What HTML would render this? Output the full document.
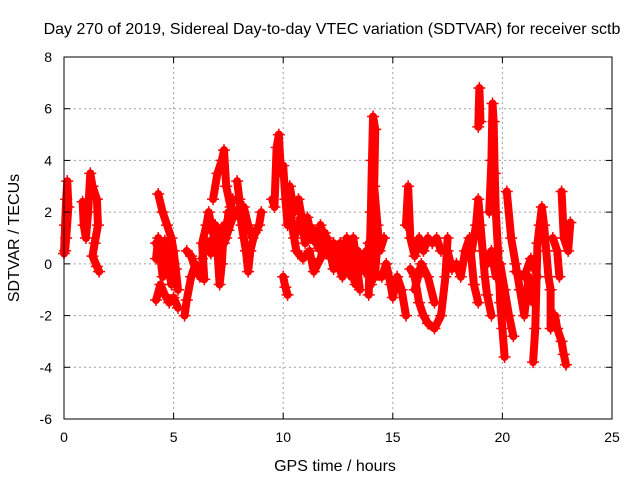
<!DOCTYPE html>
<html><head><meta charset="utf-8"><style>
body{margin:0;background:#fff}
svg text{font-family:"Liberation Sans",sans-serif;font-size:14px;fill:#000}
svg text.big{font-size:16px}
</style></head><body>
<svg id="chart" width="640" height="480">
<rect width="640" height="480" fill="#fff"/>
<g id="grid"></g>
<g id="series"></g>
<rect x="64" y="57" width="548" height="362" fill="none" stroke="#000" stroke-width="1"/>
<g id="ticks"></g>
<text class="big" x="332" y="34" text-anchor="middle">Day 270 of 2019, Sidereal Day-to-day VTEC variation (SDTVAR) for receiver sctb</text>
<text class="big" x="335" y="471" text-anchor="middle">GPS time / hours</text>
<text class="big" transform="translate(19,238) rotate(-90)" text-anchor="middle">SDTVAR / TECUs</text>
</svg>
<script>
const xTicks=[0,5,10,15,20,25];
const yTicks=[-6,-4,-2,0,2,4,6,8];
const trackA=[[0,0.4],[0.05,1.5],[0.1,2.5],[0.15,3.2],[0.2,2.2],[0.1,1.0],[0.05,0.5]];
const trackB=[[0.85,2.4],[0.9,1.5],[1.0,1.0],[1.1,2.0],[1.2,3.5],[1.3,3.0],[1.5,2.5],[1.55,1.5],[1.4,0.8],[1.3,0.3],[1.5,-0.1],[1.6,-0.3]];
const trackC=[[4.3,2.7],[4.5,2.0],[4.7,1.5],[4.9,1.0],[5.0,0.5],[5.1,-0.2],[5.2,-1.0]];
const trackD=[[4.2,0.2],[4.3,1.0],[4.5,-0.5],[4.7,0],[4.8,0.5],[5.0,0]];
const trackD2=[[4.2,0.8],[4.4,0.4],[4.6,0.9],[4.8,-0.3],[4.9,-0.8]];
const trackE=[[4.2,-1.4],[4.4,-0.8],[4.6,-1.2],[4.8,-1.5],[5.0,-1.3],[5.2,-1.7]];
const trackF=[[5.5,-2.0],[5.6,-1.4],[5.8,-0.5],[6.0,0.0],[6.2,-0.5],[6.4,-0.6],[6.3,0.8],[6.5,1.5],[6.6,2.0],[6.8,1.2],[7.0,0.5],[7.1,-0.8],[7.2,0],[7.3,1.5],[7.4,1.0],[7.5,2.0]];
const trackF2=[[6.3,0.2],[6.5,0.9],[6.7,0.4],[6.9,1.5],[7.1,1.0],[7.3,0.8],[7.5,1.3],[7.7,1.8]];
const trackG=[[5.6,0.5],[5.8,0.3],[6.0,-0.2]];
const trackH=[[6.8,2.5],[7.0,3.5],[7.2,4.0],[7.3,4.4],[7.4,3.0],[7.6,2.2],[7.7,2.5]];
const trackI=[[7.9,3.2],[8.0,2.5],[8.1,1.5],[8.2,1.0],[8.3,0.5],[8.4,-0.3],[8.5,0.5],[8.7,1.2],[8.9,1.5],[9.0,2.0]];
const trackI2=[[7.8,2.0],[8.0,1.8],[8.2,2.2],[8.4,1.5],[8.6,1.0],[8.8,1.3]];
const trackJ=[[9.5,2.5],[9.6,2.2],[9.7,4.5],[9.8,5.0],[9.9,3.5],[10.0,3.8],[10.1,2.5],[10.2,1.5]];
const trackK=[[10.0,-0.5],[10.1,-0.9],[10.2,-1.2]];
const trackL=[[10.3,3.0],[10.5,2.0],[10.7,2.5],[10.9,1.5],[11.1,1.8],[11.3,1.0],[11.5,0.8],[11.7,1.5],[11.9,0.5],[12.1,0.3],[12.3,0.8],[12.5,0],[12.7,-0.5],[12.9,1.0],[13.1,0.2],[13.3,-0.8],[13.5,0],[13.8,0.5]];
const trackM=[[10.4,1.5],[10.6,0.5],[10.9,0.2],[11.2,0.5],[11.4,-0.3],[11.7,0.2],[12.0,1.0],[12.3,-0.2],[12.6,0.8],[12.9,-0.3],[13.2,1.0],[13.5,-1.0]];
const trackM2=[[10.3,2.2],[10.5,1.0],[10.8,1.8],[11.0,0.8],[11.3,1.4],[11.6,0.6],[11.9,1.2],[12.2,0.2],[12.5,0.5],[12.8,0.2],[13.1,-0.5],[13.4,0.5],[13.7,-0.3]];
const trackN=[[13.9,-1.2],[13.95,0.5],[14.0,2.0],[14.05,4.0],[14.1,5.7],[14.2,5.2],[14.15,3.0],[14.3,1.5],[14.4,0.5],[14.6,1.0]];
const trackN2=[[13.9,0.8],[14.0,-0.8],[14.1,1.0],[14.2,-0.3],[14.3,0.8]];
const trackO=[[14.2,-0.5],[14.5,-0.5],[14.7,0.0],[14.9,-0.8],[15.0,-1.3],[15.2,-0.5],[15.4,-1.0],[15.6,-2.0]];
const trackP=[[15.6,1.5],[15.7,3.0],[15.8,1.0],[16.0,0.3],[16.2,1.0],[16.4,0.5],[16.6,1.0],[16.8,0.8],[17.0,1.0],[17.2,0.5]];
const trackQ=[[15.8,-0.2],[16.0,-0.5],[16.2,-1.5],[16.4,-2.0],[16.6,-2.3],[16.9,-2.5],[17.2,-2.0],[17.4,-0.5],[17.5,1.0]];
const trackR=[[16.0,-1.0],[16.3,0.0],[16.6,-0.5],[16.9,-1.5]];
const trackS=[[17.5,0.5],[17.7,-0.2],[17.9,0.0],[18.1,-0.5],[18.3,0.5],[18.5,1.0],[18.7,-0.8],[18.9,-1.5]];
const trackT=[[18.6,0.5],[18.8,1.5],[18.9,2.5],[19.0,1.5],[19.1,0.5],[19.2,-0.5],[19.3,-1.2],[19.5,-2.0]];
const trackU=[[18.9,5.3],[18.95,6.8],[19.0,5.5]];
const trackV=[[19.4,2.0],[19.5,4.0],[19.55,6.2],[19.6,5.5],[19.65,3.5],[19.7,2.0],[19.8,0.5],[19.9,-1.5],[20.0,-2.5],[20.1,-3.6]];
const trackW=[[19.3,0.0],[19.5,0.5],[19.7,-0.5],[19.9,0],[20.1,-1.0],[20.3,-2.0],[20.5,-2.8]];
const trackX=[[20.2,2.8],[20.4,1.0],[20.6,0.0],[20.8,-1.0],[21.0,-2.0],[21.2,-0.5],[21.4,-1.5]];
const trackY=[[20.6,-0.3],[21.0,-0.5],[21.3,0.2],[21.6,-0.5]];
const trackZ=[[21.4,-3.8],[21.5,-2.5],[21.6,0.8],[21.7,1.5],[21.8,2.2],[21.9,1.5],[22.0,0.5],[22.1,-0.5],[22.2,-1.0],[22.2,-2.5],[22.4,-2.0],[22.5,-2.5],[22.7,-3.0],[22.8,-3.5],[22.9,-3.9]];
const trackZ2=[[22.3,1.0],[22.5,0.5],[22.6,-0.5]];
const trackZ3=[[22.7,2.8],[22.8,1.0],[23.0,0.5],[23.1,1.6]];
const tracks=[trackA,trackB,trackC,trackD,trackD2,trackE,trackF,trackF2,trackG,trackH,trackI,trackI2,trackJ,trackK,trackL,trackM,trackM2,trackN,trackN2,trackO,trackP,trackQ,trackR,trackS,trackT,trackU,trackV,trackW,trackX,trackY,trackZ,trackZ2,trackZ3];

const NS="http://www.w3.org/2000/svg";
const X0=64,X1=612,Y0=419,Y1=57;
function xs(h){return X0+(h-0)/25*(X1-X0);}
function ys(v){return Y0-(v+6)/14*(Y0-Y1);}
const grid=document.getElementById('grid'),ticks=document.getElementById('ticks'),ser=document.getElementById('series');
function mk(tag,attrs,parent){const e=document.createElementNS(NS,tag);for(const k in attrs)e.setAttribute(k,attrs[k]);parent.appendChild(e);return e;}
xTicks.forEach(t=>{const x=xs(t);
 if(t>0&&t<25){const g=mk('line',{x1:x,x2:x,y1:Y1,y2:Y0,stroke:'#a0a0a0','stroke-dasharray':'2,3'},grid);
 
 }
 mk('line',{x1:x,x2:x,y1:Y0,y2:Y0-6,stroke:'#000'},ticks);
 mk('line',{x1:x,x2:x,y1:Y1,y2:Y1+6,stroke:'#000'},ticks);
 const l=mk('text',{x:x,y:442,'text-anchor':'middle'},ticks);l.textContent=t;
 
 });
yTicks.forEach(t=>{const y=ys(t);
 if(t>-6&&t<8){const g=mk('line',{x1:X0,x2:X1,y1:y,y2:y,stroke:'#a0a0a0','stroke-dasharray':'2,3'},grid);
 
 }
 mk('line',{x1:X0,x2:X0+6,y1:y,y2:y,stroke:'#000'},ticks);
 mk('line',{x1:X1,x2:X1-6,y1:y,y2:y,stroke:'#000'},ticks);
 const l=mk('text',{x:52,y:y+5,'text-anchor':'end'},ticks);l.textContent=t;
 
 });
tracks.forEach(tr=>{
 const p=mk('polyline',{points:tr.map(d=>xs(d[0])+','+ys(d[1])).join(' '),fill:'none',stroke:'#f00','stroke-width':8,'stroke-linejoin':'round','stroke-linecap':'round'},ser);
 
 
 tr.forEach(d=>{const x=xs(d[0]),y=ys(d[1]);
  const m=mk('path',{d:`M${x-6},${y}H${x+6}M${x},${y-6}V${y+6}`,stroke:'#f00','stroke-width':1.5},ser);
  
  });
});
</script>
</body></html>
